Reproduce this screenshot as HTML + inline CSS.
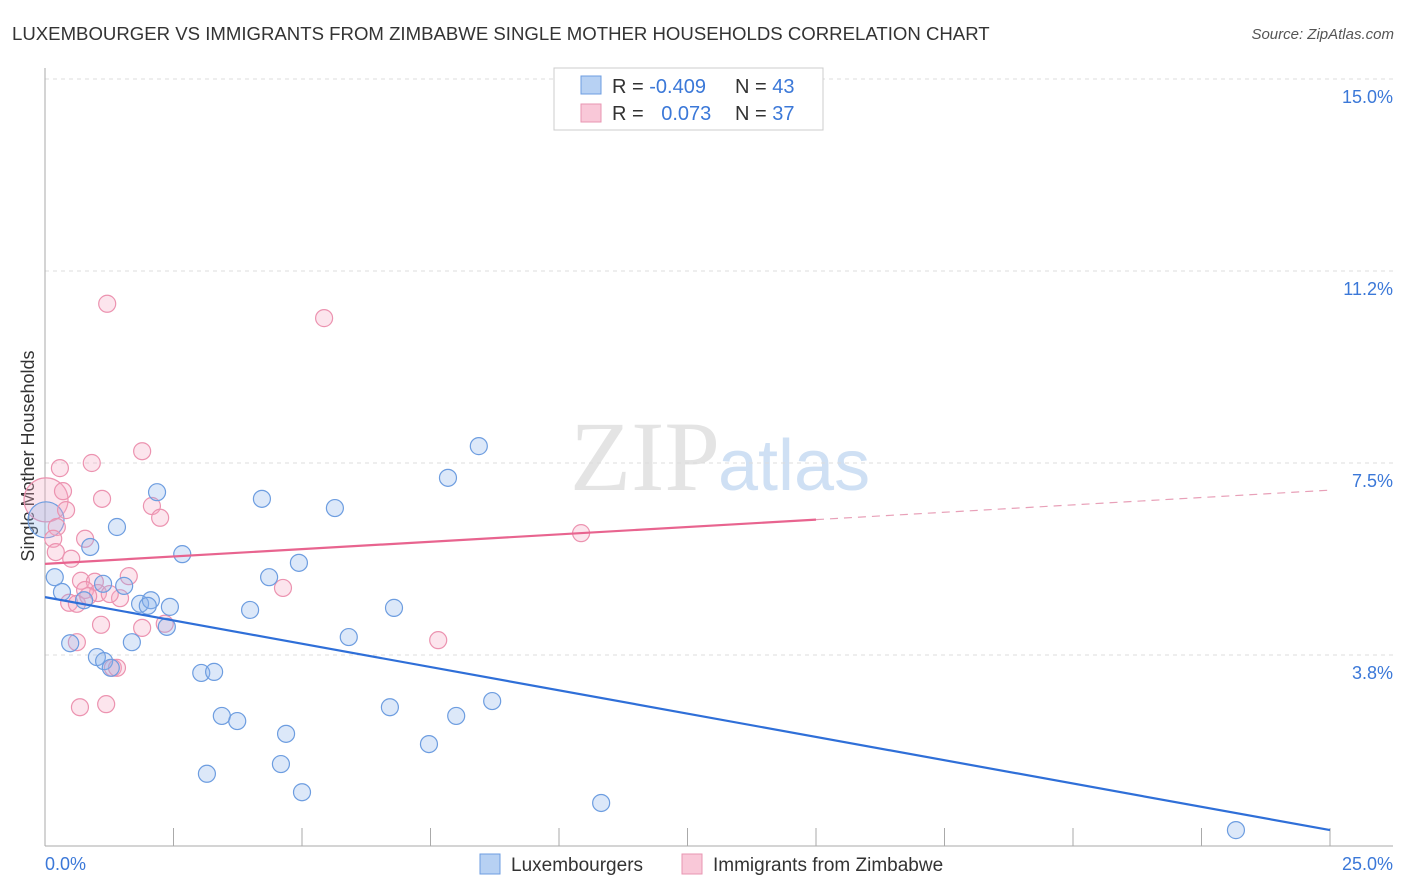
<!DOCTYPE html>
<html><head><meta charset="utf-8">
<style>
body{margin:0;background:#fff;font-family:"Liberation Sans",sans-serif;}
svg{display:block}
</style></head>
<body>
<svg id="chart" width="1406" height="892">
<text x="12" y="40" font-size="18.6" fill="#333">LUXEMBOURGER VS IMMIGRANTS FROM ZIMBABWE SINGLE MOTHER HOUSEHOLDS CORRELATION CHART</text>
<text x="1394" y="39" font-size="15" fill="#555" text-anchor="end" font-style="italic">Source: ZipAtlas.com</text>
<text x="720" y="490" font-size="100" fill="#e4e4e4" text-anchor="end" font-family="Liberation Serif">ZIP</text>
<text x="718" y="490" font-size="72" fill="#cfe0f4">atlas</text>
<text transform="translate(34,456) rotate(-90)" font-size="18" fill="#333" text-anchor="middle">Single Mother Households</text>
<g id="grid"></g><g id="axes"></g><g id="pts"></g><g id="lines"></g>
<g>
<rect x="554" y="68" width="269" height="62" fill="#fff" stroke="#ccc"/>
<rect x="581" y="76" width="20" height="18" fill="#b7d1f3" stroke="#6d9de0"/>
<rect x="581" y="104" width="20" height="18" fill="#f9c8d8" stroke="#e896b2"/>
<text x="612" y="93" font-size="20" fill="#333">R = <tspan fill="#3b78d8">-0.409</tspan></text>
<text x="735" y="93" font-size="20" fill="#333">N = <tspan fill="#3b78d8">43</tspan></text>
<text x="612" y="120" font-size="20" fill="#333">R = <tspan fill="#3b78d8" dx="12">0.073</tspan></text>
<text x="735" y="120" font-size="20" fill="#333">N = <tspan fill="#3b78d8">37</tspan></text>
</g>
<g>
<rect x="480" y="854" width="20" height="20" fill="#b7d1f3" stroke="#6d9de0"/>
<text x="511" y="871" font-size="19" fill="#333">Luxembourgers</text>
<rect x="682" y="854" width="20" height="20" fill="#f9c8d8" stroke="#e896b2"/>
<text x="713" y="871" font-size="19" fill="#333">Immigrants from Zimbabwe</text>
</g>
</svg>
<script>
const yTicks=[3.75,7.5,11.25,15];
const yTickLabels=["3.8%","7.5%","11.2%","15.0%"];
const xTickCount=10;
const blueX=[0.19,0.33,0.88,1.40,2.18,2.67,0.49,1.01,1.15,1.28,1.69,1.54,1.85,2.06,2.00,2.43,2.37,3.04,3.29,3.44,3.74,3.15,3.99,4.22,4.36,4.69,4.59,5.00,4.94,5.64,5.91,6.71,6.79,7.47,7.84,8.00,8.44,8.70,10.82,23.17,0.76,1.13];
const blueY=[5.27,4.98,5.86,6.25,6.93,5.72,3.98,3.71,3.63,3.50,4.00,5.10,4.75,4.82,4.71,4.69,4.30,3.40,3.42,2.56,2.46,1.43,4.63,6.80,5.27,2.21,1.62,1.07,5.55,6.62,4.10,2.73,4.67,2.01,7.21,2.56,7.83,2.85,0.86,0.33,4.82,5.14];
const pinkX=[1.21,5.43,1.89,0.91,0.29,0.35,1.11,0.41,2.08,2.24,0.23,0.78,0.16,0.21,0.51,0.70,0.97,1.63,0.78,1.03,1.46,0.47,0.62,1.26,4.63,1.09,1.89,2.33,0.62,1.32,1.40,0.68,1.19,10.43,7.65,0.84];
const pinkY=[10.61,10.33,7.73,7.50,7.40,6.95,6.80,6.58,6.66,6.43,6.25,6.02,6.02,5.76,5.63,5.20,5.18,5.29,5.02,4.96,4.86,4.77,4.75,4.94,5.06,4.34,4.28,4.36,4.00,3.50,3.50,2.73,2.79,6.13,4.04,4.90];
const bigBlue=[0.02,6.39];
const bigPink=[0.02,6.78];
const blueTrend=[4.88,0.33];
const pinkTrend=[5.53,6.97];
const X=v=>45+v*51.4, Y=v=>847-v*51.2;
const NS="http://www.w3.org/2000/svg";
function mk(p,t,a){const e=document.createElementNS(NS,t);for(const k in a)e.setAttribute(k,a[k]);p.appendChild(e);return e;}
const grid=document.getElementById('grid'),axes=document.getElementById('axes'),pts=document.getElementById('pts'),lines=document.getElementById('lines');
yTicks.forEach((t,i)=>{
 const l=mk(grid,'line',{x1:45,x2:1393,y1:Y(t),y2:Y(t),stroke:'#ddd','stroke-dasharray':'4,4'});
 
 
 const tx=mk(axes,'text',{x:1393,y:Y(t)+24,'font-size':18,fill:'#3b78d8','text-anchor':'end'});
 tx.textContent=yTickLabels[i];
 
 
});
const topGrid=mk(grid,'line',{x1:45,x2:1393,y1:79,y2:79,stroke:'#ddd','stroke-dasharray':'4,4'});


const ya=mk(axes,'line',{x1:45,x2:45,y1:68,y2:846,stroke:'#aaa'});


const xa=mk(axes,'line',{x1:45,x2:1393,y1:846,y2:846,stroke:'#aaa'});


for(let i=1;i<=xTickCount;i++){const v=i*2.5;const t=mk(axes,'line',{x1:X(v),x2:X(v),y1:828,y2:846,stroke:'#aaa'});
 
 }
const x0=mk(axes,'text',{x:45,y:870,'font-size':18,fill:'#3b78d8'});x0.textContent='0.0%';


const x1=mk(axes,'text',{x:1393,y:870,'font-size':18,fill:'#3b78d8','text-anchor':'end'});x1.textContent='25.0%';


function dot(x,y,r,blue,name){const c=mk(pts,'circle',{cx:X(x),cy:Y(y),r:r,fill:blue?'rgba(140,180,235,0.3)':'rgba(245,170,195,0.3)',stroke:blue?'#6d9de0':'#ec93b0','stroke-width':1.2});
 
 }
dot(bigPink[0],bigPink[1],22,false,'pink-point-large');
dot(bigBlue[0],bigBlue[1],18,true,'blue-point-large');
pinkX.forEach((x,i)=>dot(x,pinkY[i],8.5,false,'pink-point'));
blueX.forEach((x,i)=>dot(x,blueY[i],8.5,true,'blue-point'));
const bl=mk(lines,'line',{x1:X(0),y1:Y(blueTrend[0]),x2:X(25),y2:Y(blueTrend[1]),stroke:'#2f6fd8','stroke-width':2.2});


const pm=pinkTrend[0]+(pinkTrend[1]-pinkTrend[0])*15/25;
const pl=mk(lines,'line',{x1:X(0),y1:Y(pinkTrend[0]),x2:X(15),y2:Y(pm),stroke:'#e8648f','stroke-width':2.2});


const pd=mk(lines,'line',{x1:X(15),y1:Y(pm),x2:X(25),y2:Y(pinkTrend[1]),stroke:'#e8a0b8','stroke-width':1.2,'stroke-dasharray':'8,6'});


</script>
</body></html>
